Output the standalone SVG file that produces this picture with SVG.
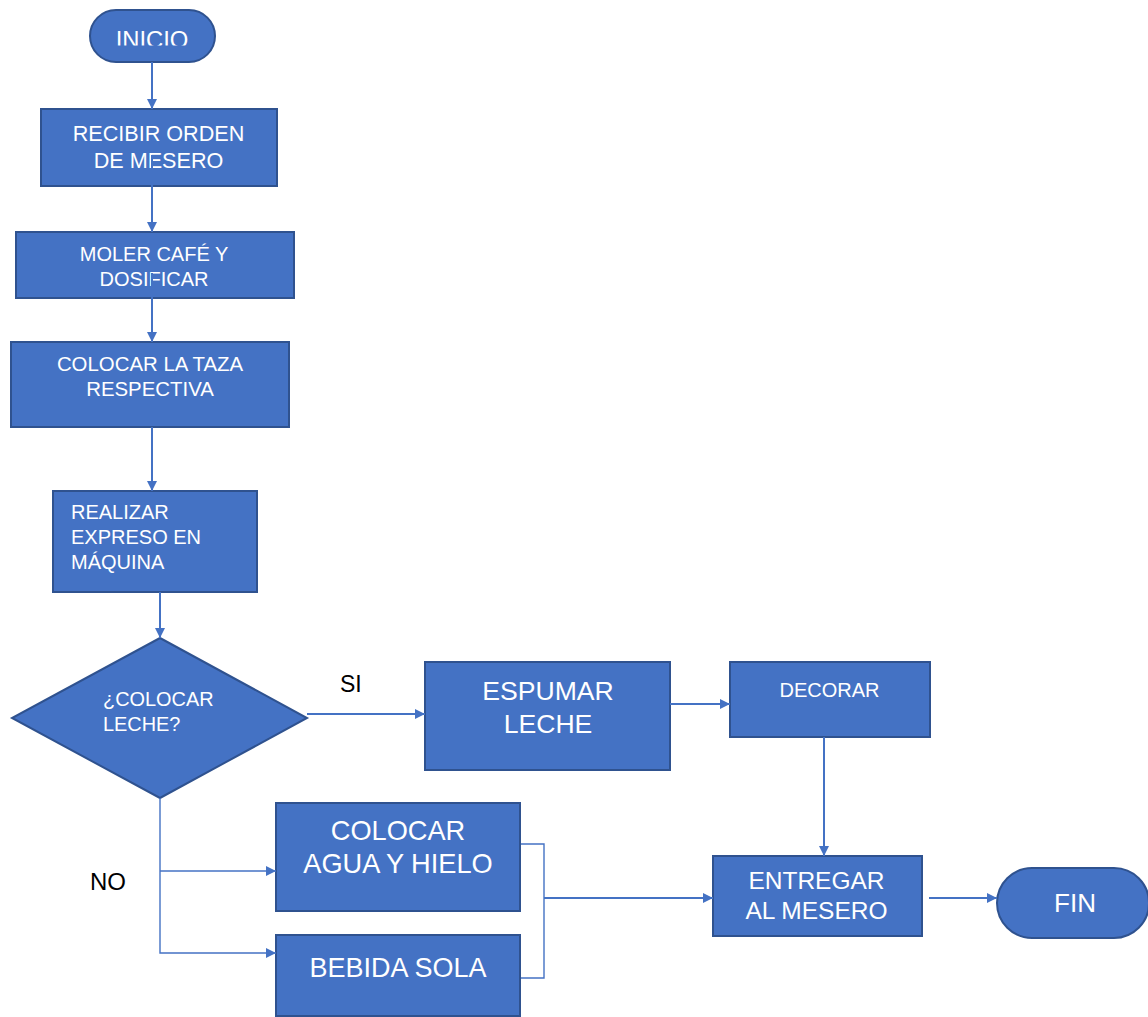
<svg xmlns="http://www.w3.org/2000/svg" width="1148" height="1017" viewBox="0 0 1148 1017">
  <style>
    .box { fill: #4472C4; stroke: #2F528F; stroke-width: 2; }
    .lbl { fill: #FFFFFF; font-family: "Liberation Sans", Arial, sans-serif; }
    .mid { text-anchor: middle; }
    .tag { fill: #000000; font-family: "Liberation Sans", Arial, sans-serif; }
    .wire { fill: none; stroke: #4472C4; stroke-width: 2; }
    .thin { fill: none; stroke: #4472C4; stroke-width: 1.4; }
  </style>
  <defs>
    <marker id="arrow" viewBox="0 0 10 10" refX="10" refY="5" markerWidth="10" markerHeight="10" markerUnits="userSpaceOnUse" orient="auto">
      <path d="M0,0 L10,5 L0,10 z" fill="#4472C4"/>
    </marker>
    <clipPath id="startClip">
      <rect x="90" y="10" width="125" height="35.5"/>
    </clipPath>
  </defs>

  <g id="inicio">
    <rect class="box" x="90" y="10" width="125" height="52" rx="26"/>
    <text class="lbl mid" x="152" y="48" font-size="23.8" clip-path="url(#startClip)">INICIO</text>
  </g>

  <g id="recibir">
    <rect class="box" x="41" y="109" width="236" height="77"/>
    <text class="lbl mid" font-size="21.6"><tspan x="158.5" y="141">RECIBIR ORDEN</tspan><tspan x="158.5" y="168">DE MESERO</tspan></text>
  </g>

  <g id="moler">
    <rect class="box" x="16" y="232" width="278" height="66"/>
    <text class="lbl mid" font-size="20"><tspan x="154" y="261">MOLER CAFÉ Y</tspan><tspan x="154" y="286">DOSIFICAR</tspan></text>
  </g>

  <g id="taza">
    <rect class="box" x="11" y="342" width="278" height="85"/>
    <text class="lbl mid" font-size="20.4"><tspan x="150" y="371">COLOCAR LA TAZA</tspan><tspan x="150" y="396">RESPECTIVA</tspan></text>
  </g>

  <g id="expreso">
    <rect class="box" x="53" y="491" width="204" height="101"/>
    <text class="lbl" font-size="20"><tspan x="71" y="519">REALIZAR</tspan><tspan x="71" y="544">EXPRESO EN</tspan><tspan x="71" y="569">MÁQUINA</tspan></text>
  </g>

  <g id="decision">
    <polygon class="box" points="160,638 307,718 160,798 12,718"/>
    <text class="lbl" font-size="19.9"><tspan x="103" y="706">¿COLOCAR</tspan><tspan x="103" y="731">LECHE?</tspan></text>
  </g>

  <g id="espumar">
    <rect class="box" x="425" y="662" width="245" height="108"/>
    <text class="lbl mid" font-size="26.6"><tspan x="548" y="700">ESPUMAR</tspan><tspan x="548" y="733">LECHE</tspan></text>
  </g>

  <g id="decorar">
    <rect class="box" x="730" y="662" width="200" height="75"/>
    <text class="lbl mid" x="829.5" y="697" font-size="20">DECORAR</text>
  </g>

  <g id="agua">
    <rect class="box" x="276" y="803" width="244" height="108"/>
    <text class="lbl mid" font-size="27.2"><tspan x="398" y="840">COLOCAR</tspan><tspan x="398" y="873">AGUA Y HIELO</tspan></text>
  </g>

  <g id="sola">
    <rect class="box" x="276" y="935" width="244" height="81"/>
    <text class="lbl mid" x="398" y="977" font-size="27">BEBIDA SOLA</text>
  </g>

  <g id="entregar">
    <rect class="box" x="713" y="856" width="209" height="80"/>
    <text class="lbl mid" font-size="24.5"><tspan x="816.5" y="889">ENTREGAR</tspan><tspan x="816.5" y="919">AL MESERO</tspan></text>
  </g>

  <g id="fin">
    <rect class="box" x="997" y="868" width="152" height="70" rx="35"/>
    <text class="lbl mid" x="1075" y="912" font-size="26">FIN</text>
  </g>

  <g id="labels">
    <text class="tag" x="340" y="692" font-size="23">SI</text>
    <text class="tag" x="90" y="890" font-size="24">NO</text>
  </g>

  <g id="connectors">
    <line class="wire" x1="152" y1="62" x2="152" y2="109" marker-end="url(#arrow)"/>
    <line class="wire" x1="152" y1="155" x2="152" y2="232" marker-end="url(#arrow)"/>
    <line class="wire" x1="152" y1="273" x2="152" y2="342" marker-end="url(#arrow)"/>
    <line class="wire" x1="152" y1="427" x2="152" y2="491" marker-end="url(#arrow)"/>
    <line class="wire" x1="160" y1="592" x2="160" y2="638" marker-end="url(#arrow)"/>
    <line class="wire" x1="307" y1="714" x2="425" y2="714" marker-end="url(#arrow)"/>
    <line class="wire" x1="670" y1="704" x2="730" y2="704" marker-end="url(#arrow)"/>
    <line class="wire" x1="824" y1="737" x2="824" y2="856" marker-end="url(#arrow)"/>
    <polyline class="thin" points="160,798 160,953 276,953" marker-end="url(#arrow)"/>
    <line class="thin" x1="160" y1="871" x2="276" y2="871" marker-end="url(#arrow)"/>
    <polyline class="thin" points="521,844 544,844 544,978 521,978"/>
    <line class="wire" x1="544" y1="898" x2="713" y2="898" marker-end="url(#arrow)"/>
    <line class="wire" x1="929" y1="898" x2="997" y2="898" marker-end="url(#arrow)"/>
  </g>
</svg>
